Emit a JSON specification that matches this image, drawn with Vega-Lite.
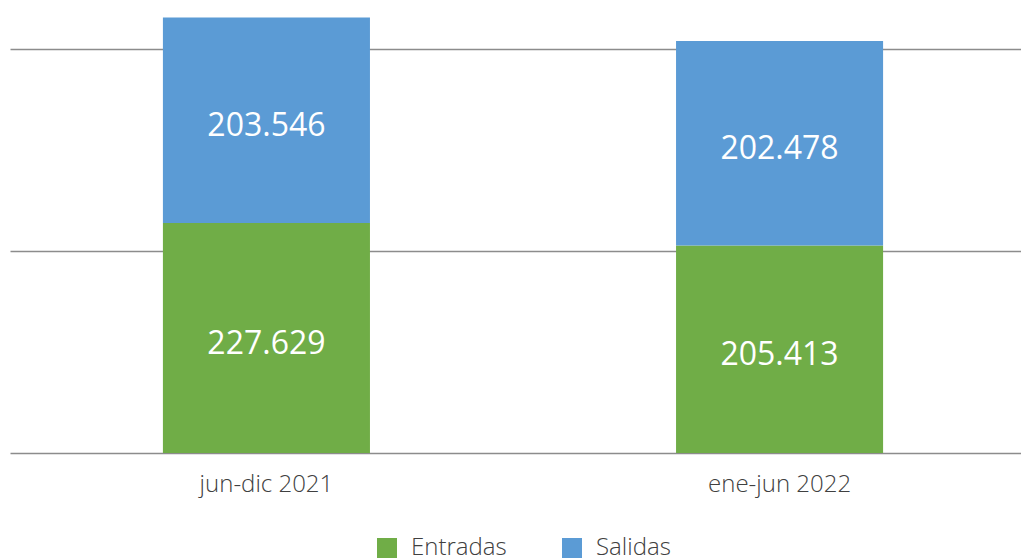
{
  "$schema": "https://vega.github.io/schema/vega-lite/v6.json",
  "width": 1011,
  "height": 453,
  "padding": {"left": 10, "top": 0, "right": 0, "bottom": 105},
  "autosize": {"type": "none"},
  "background": "white",
  "config": {
    "locale": {"number": {"decimal": ",", "thousands": ".", "grouping": [3], "currency": ["", " €"]}},
    "view": {"stroke": null},
    "font": "Open Sans"
  },
  "data": {
    "values": [
      {"periodo": "jun-dic 2021", "tipo": "Entradas", "valor": 227629, "orden": 1},
      {"periodo": "jun-dic 2021", "tipo": "Salidas", "valor": 203546, "orden": 2},
      {"periodo": "ene-jun 2022", "tipo": "Entradas", "valor": 205413, "orden": 1},
      {"periodo": "ene-jun 2022", "tipo": "Salidas", "valor": 202478, "orden": 2}
    ]
  },
  "encoding": {
    "x": {
      "field": "periodo", "type": "nominal", "sort": ["jun-dic 2021", "ene-jun 2022"],
      "scale": {"range": [0, 1026], "paddingInner": 0.5965, "paddingOuter": 0.298},
      "axis": {"title": null, "labelAngle": 0, "ticks": false, "domain": false, "labelFontSize": 24, "labelColor": "#404040", "labelFont": "Open Sans", "labelFontWeight": 300, "labelPadding": 19}
    },
    "y": {
      "field": "valor", "type": "quantitative", "stack": "zero",
      "scale": {"domain": [0, 448500], "nice": false},
      "axis": {"title": null, "labels": false, "ticks": false, "domain": false, "values": [0, 200000, 400000], "grid": true, "gridColor": "#8c8c8c", "gridWidth": 1.3}
    },
    "order": {"field": "orden", "type": "quantitative"}
  },
  "layer": [
    {
      "mark": {"type": "bar"},
      "encoding": {
        "color": {
          "field": "tipo", "type": "nominal",
          "scale": {"domain": ["Entradas", "Salidas"], "range": ["#70AD47", "#5B9BD5"]},
          "legend": {"title": null, "orient": "none", "legendX": 365, "legendY": 536, "direction": "horizontal", "symbolType": "square", "symbolSize": 400, "symbolStrokeWidth": 0, "symbolOpacity": 1, "labelFontSize": 24, "labelColor": "#404040", "labelFont": "Open Sans", "labelFontWeight": 300, "labelOffset": 12, "columnPadding": 53, "symbolOffset": 0}
        }
      }
    },
    {
      "mark": {"type": "text", "color": "white", "fontSize": 32, "font": "Open Sans", "fontWeight": 400, "dy": 6},
      "encoding": {
        "y": {"field": "valor", "type": "quantitative", "stack": "zero", "bandPosition": 0.5},
        "text": {"field": "valor", "type": "quantitative", "format": ",d"}
      }
    }
  ]
}
